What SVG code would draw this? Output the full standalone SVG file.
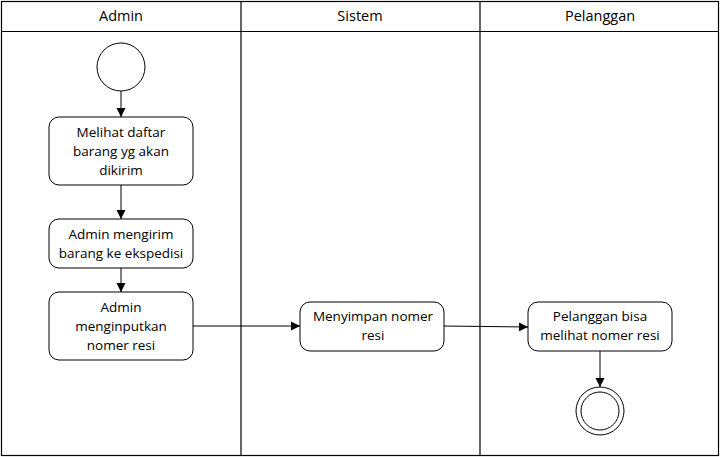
<svg xmlns="http://www.w3.org/2000/svg" width="721" height="457" viewBox="0 0 721 457">
<style>
.lane{fill:none;stroke:#000;stroke-width:1.2}
.node{fill:#fff;stroke:#000;stroke-width:1}
.t{font-family:"Open Sans","Liberation Sans",sans-serif;font-size:13.5px;fill:#000;text-anchor:middle}
.h{font-family:"Open Sans","Liberation Sans",sans-serif;font-size:14.5px;fill:#000;text-anchor:middle}
.c{fill:none;stroke:#000;stroke-width:1}
</style>
<defs>
<marker id="arr" markerWidth="10" markerHeight="10" refX="9" refY="5" orient="auto" markerUnits="userSpaceOnUse">
<path d="M0,0.5 L9,5 L0,9.5 Z" fill="#000"/>
</marker>
</defs>
<rect width="721" height="457" fill="#fff"/>
<g id="lanes">
<rect class="lane" x="1.5" y="1.5" width="717" height="454"/>
<line class="lane" x1="1.5" y1="31.5" x2="718.5" y2="31.5"/>
<line class="lane" x1="241" y1="1.5" x2="241" y2="455.5"/>
<line class="lane" x1="480" y1="1.5" x2="480" y2="455.5"/>
<text class="h" x="121" y="21">Admin</text>
<text class="h" x="360" y="21">Sistem</text>
<text class="h" x="600" y="21">Pelanggan</text>
</g>
<g id="connectors">
<line class="c" x1="121" y1="91" x2="121" y2="117" marker-end="url(#arr)"/>
<line class="c" x1="121" y1="185" x2="121" y2="219" marker-end="url(#arr)"/>
<line class="c" x1="121" y1="268" x2="121" y2="292" marker-end="url(#arr)"/>
<line class="c" x1="193" y1="326" x2="300" y2="326" marker-end="url(#arr)"/>
<line class="c" x1="444" y1="326" x2="528" y2="327" marker-end="url(#arr)"/>
<line class="c" x1="600" y1="351" x2="600" y2="387" marker-end="url(#arr)"/>
</g>
<g id="start">
<circle class="node" cx="121" cy="67" r="24"/>
</g>
<g id="n1">
<rect class="node" x="49" y="117" width="144" height="68" rx="10"/>
<text class="t" x="121" y="137">Melihat daftar</text>
<text class="t" x="121" y="156">barang yg akan</text>
<text class="t" x="121" y="175">dikirim</text>
</g>
<g id="n2">
<rect class="node" x="49" y="219" width="144" height="49" rx="10"/>
<text class="t" x="121" y="239">Admin mengirim</text>
<text class="t" x="121" y="258">barang ke ekspedisi</text>
</g>
<g id="n3">
<rect class="node" x="49" y="292" width="144" height="68" rx="10"/>
<text class="t" x="121" y="312">Admin</text>
<text class="t" x="121" y="331">menginputkan</text>
<text class="t" x="121" y="350">nomer resi</text>
</g>
<g id="n4">
<rect class="node" x="300" y="302" width="144" height="49" rx="10"/>
<text class="t" x="373" y="321">Menyimpan nomer</text>
<text class="t" x="373" y="340">resi</text>
</g>
<g id="n5">
<rect class="node" x="528" y="302" width="144" height="49" rx="10"/>
<text class="t" x="600" y="321">Pelanggan bisa</text>
<text class="t" x="600" y="340">melihat nomer resi</text>
</g>
<g id="end">
<circle class="node" cx="600" cy="411" r="24"/>
<circle class="node" cx="600" cy="411" r="19"/>
</g>
</svg>
